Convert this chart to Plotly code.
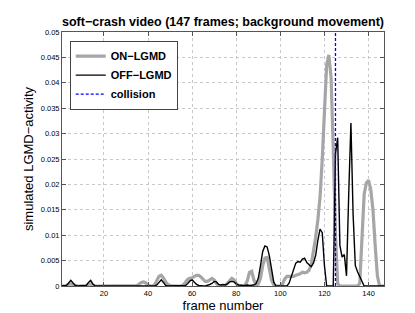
import plotly.graph_objects as go

frames = list(range(1, 148))

off_lgmd = [
    0, 0, 0.0001, 0.0006, 0.0011, 0.0006, 0.0001, 0, 0, 0,            # 1-10
    0, 0.0001, 0.0007, 0.0011, 0.0004, 0, 0, 0, 0, 0,                  # 11-20
    0, 0, 0, 0, 0, 0, 0, 0, 0, 0,                                      # 21-30
    0, 0, 0, 0, 0, 0, 0, 0.0001, 0.0001, 0,                            # 31-40
    0, 0, 0, 0.0002, 0.0008, 0.0012, 0.0007, 0.0001, 0, 0,             # 41-50
    0, 0, 0, 0, 0, 0, 0.0001, 0.0005, 0.0010, 0.0012,                  # 51-60
    0.0008, 0.0003, 0.0001, 0, 0, 0, 0.0001, 0.0003, 0.0005, 0.0009,   # 61-70
    0.0008, 0.0003, 0.0002, 0.0003, 0.0002, 0.0004, 0.0008, 0.0009, 0.0008, 0.0004,  # 71-80
    0.0002, 0.0001, 0.0001, 0.0001, 0.0002, 0.0001, 0.0002, 0.0002, 0.0005, 0.0015,  # 81-90
    0.0040, 0.0068, 0.0079, 0.0077, 0.0060, 0.0030, 0.0008, 0, 0, 0,   # 91-100
    0, 0, 0, 0.0006, 0.0020, 0.0035, 0.0045, 0.0048, 0.0047, 0.0053,   # 101-110
    0.0055, 0.0046, 0.0041, 0.0038, 0.0045, 0.0060, 0.0090, 0.0112, 0.0105, 0.0040,  # 111-120
    0, 0, 0, 0, 0.0260, 0.0292, 0.0080, 0.0057, 0.0062, 0.0020,        # 121-130
    0.0180, 0.0321, 0.0140, 0.0040, 0.0028, 0.0019, 0.0012, 0, 0, 0,  # 131-140
    0, 0, 0, 0, 0, 0, 0,                                               # 141-147
]

on_lgmd = [
    0, 0, 0.0001, 0.0003, 0.0004, 0.0003, 0.0001, 0, 0, 0,            # 1-10
    0, 0.0001, 0.0003, 0.0004, 0.0002, 0, 0, 0, 0, 0,                  # 11-20
    0, 0, 0, 0, 0, 0, 0, 0, 0, 0,                                      # 21-30
    0, 0, 0, 0, 0.0001, 0.0004, 0.0007, 0.0008, 0.0006, 0.0002,        # 31-40
    0, 0, 0.0002, 0.0011, 0.0019, 0.0021, 0.0016, 0.0008, 0.0003, 0.0001,  # 41-50
    0, 0, 0, 0, 0, 0.0002, 0.0008, 0.0013, 0.0015, 0.0016,             # 51-60
    0.0019, 0.0021, 0.0021, 0.0018, 0.0013, 0.0009, 0.0009, 0.0013, 0.0015, 0.0012,  # 61-70
    0.0005, 0.0001, 0, 0, 0.0001, 0.0006, 0.0012, 0.0015, 0.0012, 0.0005,  # 71-80
    0.0001, 0, 0, 0.0001, 0.0010, 0.0027, 0.0029, 0.0012, 0.0002, 0.0004,  # 81-90
    0.0015, 0.0040, 0.0055, 0.0056, 0.0037, 0.0012, 0.0002, 0, 0, 0,   # 91-100
    0.0004, 0.0014, 0.0019, 0.0019, 0.0018, 0.0019, 0.0021, 0.0022, 0.0024, 0.0027,  # 101-110
    0.0026, 0.0027, 0.0031, 0.0042, 0.0065, 0.0095, 0.0130, 0.0175, 0.0250, 0.0360,  # 111-120
    0.0435, 0.0455, 0.0410, 0.0270, 0.0100, 0.0005, 0, 0, 0, 0,        # 121-130
    0, 0, 0, 0, 0, 0.0005, 0.0080, 0.0180, 0.0203, 0.0208,             # 131-140
    0.0190, 0.0150, 0.0080, 0.0020, 0, 0, 0,                           # 141-147
]

collision_frame = 125
y_limits = [0, 0.05]
x_limits = [1, 147]
x_ticks = [20, 40, 60, 80, 100, 120, 140]
y_ticks = [0, 0.005, 0.01, 0.015, 0.02, 0.025, 0.03, 0.035, 0.04, 0.045, 0.05]
y_tick_labels = ["0", "0.005", "0.01", "0.015", "0.02", "0.025", "0.03",
                 "0.035", "0.04", "0.045", "0.05"]

FONT = "Liberation Sans, Arial, Helvetica, sans-serif"

fig = go.Figure()
fig.add_trace(go.Scatter(
    x=frames, y=on_lgmd, mode="lines", name="<b>ON−LGMD</b>",
    line=dict(color="#a6a6a6", width=3.2),
))
fig.add_trace(go.Scatter(
    x=frames, y=off_lgmd, mode="lines", name="<b>OFF−LGMD</b>",
    line=dict(color="#000000", width=1.4),
))
fig.add_trace(go.Scatter(
    x=[collision_frame, collision_frame], y=y_limits, mode="lines",
    name="<b>collision</b>",
    line=dict(color="#0000ff", width=1.3, dash="3px,2px"),
))

axis_common = dict(
    showline=True, linecolor="#555555", linewidth=1, mirror="ticks",
    ticks="inside", ticklen=4, tickcolor="#555555",
    showgrid=True, gridcolor="#c8c8c8", griddash="dot", gridwidth=1,
    zeroline=False,
    tickfont=dict(family=FONT, size=7.5, color="#000000"),
)

fig.update_layout(
    width=415, height=313,
    margin=dict(l=54, r=39, t=24, b=35),
    paper_bgcolor="white", plot_bgcolor="white",
    title=dict(
        text="<b>soft−crash video (147 frames; background movement)</b>",
        x=0.5, xref="paper", y=1 - 13.5 / 313, yref="container",
        yanchor="middle", xanchor="center",
        font=dict(family=FONT, size=12.5, color="#000000"),
    ),
    xaxis=dict(
        range=x_limits, tickvals=x_ticks,
        title=dict(text="frame number", standoff=2,
                   font=dict(family=FONT, size=13, color="#000000")),
        **axis_common,
    ),
    yaxis=dict(
        range=y_limits, tickvals=y_ticks, ticktext=y_tick_labels,
        title=dict(text="simulated LGMD−activity", standoff=4,
                   font=dict(family=FONT, size=13, color="#000000")),
        **axis_common,
    ),
    legend=dict(
        x=0.024, y=0.966, xanchor="left", yanchor="top",
        bgcolor="white", bordercolor="#444444", borderwidth=1,
        font=dict(family=FONT, size=11, color="#000000"),
        itemwidth=30, tracegroupgap=0,
    ),
    showlegend=True,
)

fig.write_html("out.html")
